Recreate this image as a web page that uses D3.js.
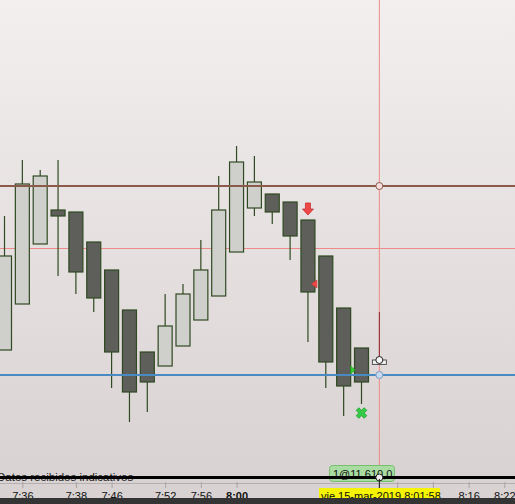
<!DOCTYPE html>
<html>
<head>
<meta charset="utf-8">
<script src="https://cdn.jsdelivr.net/npm/d3@7"></script>
<style>
html,body{margin:0;padding:0;overflow:hidden;background:#d9d3d3;}
svg{display:block;font-family:"Liberation Sans",Arial,sans-serif;}
</style>
</head>
<body>
<svg id="chart" width="515" height="504"></svg>
<script>
// ---- data ----
const opens  = [11612.5,11624,11639,11647.5,11647,11639.5,11632.5,11622.5,11612,11608.5,11613.5,11620,11626,11637,11648,11651.5,11649.5,11645,11636,11623,11613];
const highs  = [11646,11660,11657.5,11660,11647,11639.5,11632.5,11622.5,11612,11626.5,11629,11640,11656,11663.5,11661,11651.5,11649.5,11645,11636,11623,11613];
const lows   = [11612.5,11624,11639,11631,11626.5,11622,11603,11594.5,11597,11608.5,11613.5,11620,11626,11637,11646,11644,11635,11614.5,11603,11596,11599];
const closes = [11636,11654,11656,11646,11632,11625.5,11612,11602,11604.5,11618.5,11626.5,11632.5,11647.5,11659.5,11654.5,11647,11641,11627,11609.5,11603.5,11604.5];
const tickIdx    = [1,4,6,9,11,13,22,24,26,28];
const tickLabels = ["7:36","7:38","7:46","7:52","7:56","8:00","","","8:16","8:22"];
const levelPrices = [11653.5, 11606.25];        // resistance, support
const crossIdx = 21, crossPrice = 11638;
const liveBar = {idx:21, high:11622, low:11610};
const orderPrice = 11610;
const orderLabel = "1@11.610,0";
const dateLabel = "vie 15-mar-2019 8:01:58";
const statusText = "Datos recibidos indicativos";
const sellArrow = {idx:17};
const markIdx   = [17, 19, 20];
const markPrice = [11629, 11607.5, 11596.75];
const markType  = ["triL","triR","cross"];

// ---- layout ----
const W = 515, H = 504;
const svg = d3.select("#chart");
const x = d3.scaleLinear().domain([0,28]).range([4.5,504.3]);
const y = d3.scaleLinear().domain([11610,11650]).range([360,200]);
const bodyW = 14;

const defs = svg.append("defs");
const grad = defs.append("linearGradient").attr("id","bg").attr("x1",0).attr("x2",0).attr("y1",0).attr("y2",1);
grad.append("stop").attr("offset","0%").attr("stop-color","#f3efef");
grad.append("stop").attr("offset","100%").attr("stop-color","#d9d2d2");
svg.append("rect").attr("width",W).attr("height",477).attr("fill","url(#bg)");
svg.append("rect").attr("y",477).attr("width",W).attr("height",27).attr("fill","#d8d2d2");

// crosshair lines
svg.append("line").attr("x1",0).attr("x2",W).attr("y1",Math.round(y(crossPrice))+0.5).attr("y2",Math.round(y(crossPrice))+0.5)
  .attr("stroke","#f08a8a").attr("stroke-width",1);
svg.append("line").attr("x1",x(crossIdx)).attr("x2",x(crossIdx)).attr("y1",0).attr("y2",477)
  .attr("stroke","#ef8a8a").attr("stroke-width",1);

// candles
const data = opens.map((o,i)=>({i,o,h:highs[i],l:lows[i],c:closes[i]}));
const g = svg.append("g");
g.selectAll("line.wick").data(data).join("line")
  .attr("x1",d=>x(d.i)).attr("x2",d=>x(d.i))
  .attr("y1",d=>y(d.h)).attr("y2",d=>y(d.l))
  .attr("stroke","#2f4a22").attr("stroke-width",1.2);
g.selectAll("rect.body").data(data).join("rect")
  .attr("x",d=>x(d.i)-bodyW/2).attr("width",bodyW)
  .attr("y",d=>y(Math.max(d.o,d.c))).attr("height",d=>Math.max(1,Math.abs(y(d.o)-y(d.c))))
  .attr("fill",d=>d.c>=d.o?"#cfcfcc":"#5e5e5a")
  .attr("stroke","#2f4a22").attr("stroke-width",1.2);

// live bar
svg.append("line").attr("x1",x(liveBar.idx)).attr("x2",x(liveBar.idx))
  .attr("y1",y(liveBar.high)).attr("y2",y(liveBar.low)).attr("stroke","#8a2a2a").attr("stroke-width",1);

// level lines
const levelColors = ["#8c5a4a","#4a8ac2"];
svg.selectAll("line.level").data(levelPrices).join("line")
  .attr("x1",0).attr("x2",W).attr("y1",d=>y(d)).attr("y2",d=>y(d))
  .attr("stroke",(d,i)=>levelColors[i]).attr("stroke-width",2);
const circFill = ["#f5dede","#c8daf0"];
const circStroke = ["#8c5a4a","#7a9cc0"];
svg.selectAll("circle.lvl").data(levelPrices).join("circle")
  .attr("cx",x(crossIdx)).attr("cy",d=>y(d)).attr("r",3.5)
  .attr("fill",(d,i)=>circFill[i]).attr("stroke",(d,i)=>circStroke[i]).attr("stroke-width",1);

// order marker at crosshair
svg.append("rect").attr("x",x(crossIdx)-7).attr("y",y(orderPrice)).attr("width",14).attr("height",4.5)
  .attr("fill","#eeeeee").attr("stroke","#333").attr("stroke-width",0.8);
svg.append("circle").attr("cx",x(crossIdx)).attr("cy",y(orderPrice)).attr("r",3.5)
  .attr("fill","#f4f4f4").attr("stroke","#222").attr("stroke-width",1);

// sell arrow above candle
{
  const cx = x(sellArrow.idx), yb = y(highs[sellArrow.idx]) - 5;
  const p = d3.path();
  p.moveTo(cx-2.5,yb-12); p.lineTo(cx+2.5,yb-12); p.lineTo(cx+2.5,yb-6); p.lineTo(cx+5.5,yb-6);
  p.lineTo(cx,yb); p.lineTo(cx-5.5,yb-6); p.lineTo(cx-2.5,yb-6); p.closePath();
  svg.append("path").attr("d",p.toString()).attr("fill","#f04848").attr("stroke","#c83030").attr("stroke-width",0.8);
}
// other markers
markIdx.forEach((mi,k)=>{
  const py = y(markPrice[k]);
  if(markType[k]==="triL"){
    const x0 = x(mi)+bodyW/2+0.5;
    svg.append("path").attr("d",`M${x0-4},${py} L${x0+1.5},${py-4} L${x0+1.5},${py+4} Z`)
      .attr("fill","#f04848").attr("stroke","#c83030").attr("stroke-width",0.6);
  } else if(markType[k]==="triR"){
    const x0 = x(mi)+bodyW/2;
    svg.append("path").attr("d",`M${x0},${py-4} L${x0+4.5},${py} L${x0},${py+4} Z`)
      .attr("fill","#33cc33").attr("stroke","#22a022").attr("stroke-width",0.6);
  } else {
    const cx = x(mi);
    svg.append("path").attr("d",d3.symbol(d3.symbolCross,70)())
      .attr("transform",`translate(${cx},${py}) rotate(45)`)
      .attr("fill","#33cc44").attr("stroke","#22a030").attr("stroke-width",0.8);
  }
});

// green order label
svg.append("rect").attr("x",329.5).attr("y",465.5).attr("width",65).attr("height",16).attr("rx",3)
  .attr("fill","#a9dca3").attr("stroke","#74c06c").attr("stroke-width",1);
svg.append("text").attr("x",333).attr("y",478).attr("font-size",11).attr("fill","#111").text(orderLabel);

// status text
svg.append("text").attr("x",-3).attr("y",480.5).attr("font-size",11.5).attr("fill","#222").text(statusText);

// thick black separator
svg.append("rect").attr("x",0).attr("y",476).attr("width",W).attr("height",3).attr("fill","#000");
svg.append("circle").attr("cx",x(crossIdx)).attr("cy",477.5).attr("r",3.5)
  .attr("fill","#eeeeee").attr("stroke","#222").attr("stroke-width",1);

// time axis
svg.append("line").attr("x1",0).attr("x2",W).attr("y1",483.5).attr("y2",483.5).attr("stroke","#b5afaf").attr("stroke-width",1);
const xAxis = d3.axisBottom(x).tickValues(tickIdx).tickSize(6).tickPadding(4)
  .tickFormat((d,i)=>tickLabels[i]);
const ax = svg.append("g").attr("transform","translate(0,482)").call(xAxis);
ax.select(".domain").remove();
ax.selectAll(".tick line").attr("stroke","#aaa3a3");
ax.selectAll(".tick text").attr("font-size",11).attr("fill","#111")
  .attr("font-family","'Liberation Sans',Arial,sans-serif")
  .attr("font-weight",(d,i)=>tickLabels[i]==="8:00"?"bold":"normal");
svg.append("line").attr("x1",x(crossIdx)).attr("x2",x(crossIdx)).attr("y1",479).attr("y2",489).attr("stroke","#111").attr("stroke-width",1);

// date label
svg.append("rect").attr("x",319).attr("y",488).attr("width",121).attr("height",16).attr("fill","#f6f400");
svg.append("text").attr("x",321).attr("y",500).attr("font-size",11).attr("fill","#111").text(dateLabel);

// bottom dark strip
svg.append("rect").attr("x",0).attr("y",498).attr("width",W).attr("height",6).attr("fill","#343434");
</script>
</body>
</html>
